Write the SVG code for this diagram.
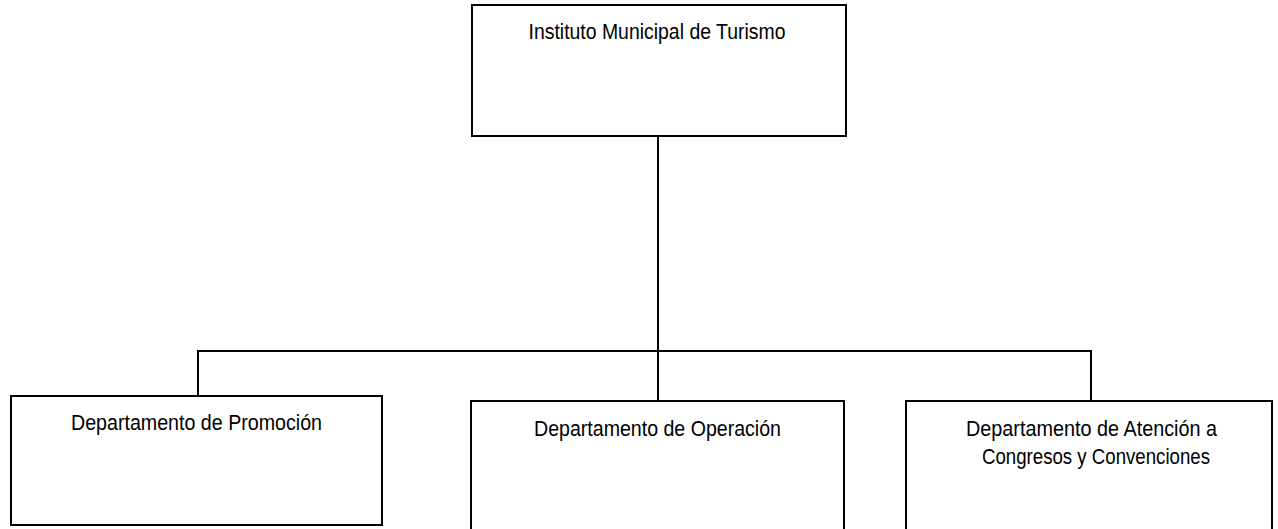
<svg xmlns="http://www.w3.org/2000/svg" width="1278" height="529" viewBox="0 0 1278 529">
<style>
.box{fill:#fff;stroke:#000;stroke-width:2}
.conn{fill:none;stroke:#000;stroke-width:2}
.t{font-family:"Liberation Sans",Arial,sans-serif;font-size:22px;fill:#000;text-anchor:middle}
</style>
<rect width="1278" height="529" fill="#fff"/>
<g id="connectors">
<line class="conn" x1="658" y1="136" x2="658" y2="401"/>
<polyline class="conn" points="198,396 198,351 1091,351 1091,401"/>
</g>
<g id="instituto">
<rect class="box" x="472" y="5" width="374" height="131"/>
<text class="t" x="657" y="39" textLength="257" lengthAdjust="spacingAndGlyphs">Instituto Municipal de Turismo</text>
</g>
<g id="promocion">
<rect class="box" x="11" y="396" width="371" height="129"/>
<text class="t" x="196.5" y="430" textLength="251" lengthAdjust="spacingAndGlyphs">Departamento de Promoción</text>
</g>
<g id="operacion">
<rect class="box" x="471" y="401" width="373" height="140"/>
<text class="t" x="657.5" y="436" textLength="247" lengthAdjust="spacingAndGlyphs">Departamento de Operación</text>
</g>
<g id="atencion">
<rect class="box" x="906" y="401" width="366" height="140"/>
<text class="t" x="1091.5" y="436" textLength="251" lengthAdjust="spacingAndGlyphs">Departamento de Atención a</text>
<text class="t" x="1096" y="464" textLength="228" lengthAdjust="spacingAndGlyphs">Congresos y Convenciones</text>
</g>
</svg>
